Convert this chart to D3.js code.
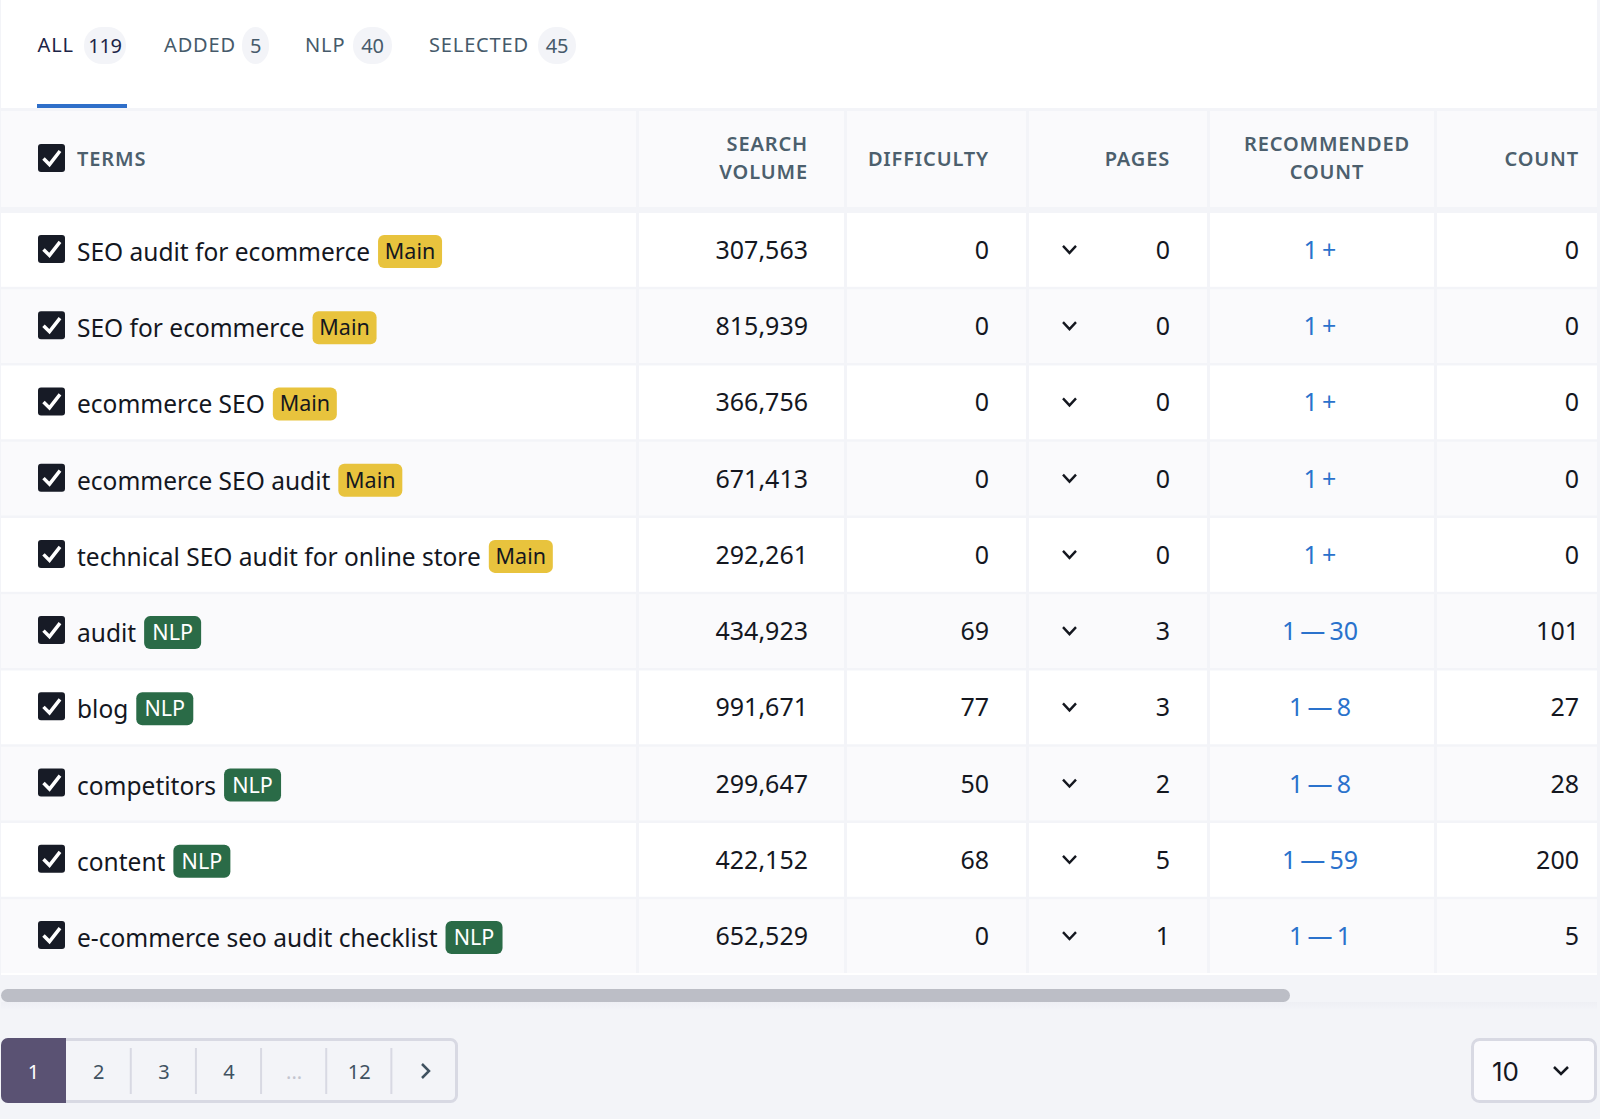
<!DOCTYPE html>
<html>
<head>
<meta charset="utf-8">
<script src="https://cdn.jsdelivr.net/npm/d3@7"></script>
<style>
html, body { margin: 0; padding: 0; background: #f3f4f8; }
svg { display: block; }
text { font-family: "Noto Sans", sans-serif; }
</style>
</head>
<body>
<div id="chart-container"></div>
<script>
const tabNames = ["ALL", "ADDED", "NLP", "SELECTED"];
const tabCounts = ["119", "5", "40", "45"];
const terms = ["SEO audit for ecommerce", "SEO for ecommerce", "ecommerce SEO", "ecommerce SEO audit", "technical SEO audit for online store", "audit", "blog", "competitors", "content", "e-commerce seo audit checklist"];
const tags = ["Main", "Main", "Main", "Main", "Main", "NLP", "NLP", "NLP", "NLP", "NLP"];
const volumes = ["307,563", "815,939", "366,756", "671,413", "292,261", "434,923", "991,671", "299,647", "422,152", "652,529"];
const difficulty = [0, 0, 0, 0, 0, 69, 77, 50, 68, 0];
const pages = [0, 0, 0, 0, 0, 3, 3, 2, 5, 1];
const recommended = ["1\u2009+", "1\u2009+", "1\u2009+", "1\u2009+", "1\u2009+", "1\u2009—\u200930", "1\u2009—\u20098", "1\u2009—\u20098", "1\u2009—\u200959", "1\u2009—\u20091"];
const counts = [0, 0, 0, 0, 0, 101, 27, 28, 200, 5];
const pageLabels = ["1", "2", "3", "4", "...", "12"];

const width = 1600, height = 1119;

var svg = d3.select("#chart-container")
    .append("svg")
    .attr("width", width)
    .attr("height", height);

// Soft shadow under the table panel
var shadow = svg.append("defs").append("linearGradient")
    .attr("id", "panel-shadow")
    .attr("x1", 0).attr("y1", 0).attr("x2", 0).attr("y2", 1);
shadow.append("stop").attr("offset", 0).attr("stop-color", "#eeeff4");
shadow.append("stop").attr("offset", 1).attr("stop-color", "#f3f4f8");
svg.append("rect").attr("x", 1).attr("y", 1002).attr("width", 1596).attr("height", 8).attr("fill", "url(#panel-shadow)");

// Background panels
svg.append("rect").attr("x", 1).attr("y", 0).attr("width", 1596).attr("height", 975).attr("fill", "#ffffff");

// Tabs
var tabX = [37.5, 164, 305, 429];
var tabBadgeX = [84, 242, 353, 538];
var tabBadgeW = [42, 27, 39, 38];
tabNames.forEach(function (name, i) {
    svg.append("text")
        .attr("x", tabX[i]).attr("y", 52)
        .attr("font-size", 20)
        .attr("letter-spacing", 0.85)
        .attr("fill", i == 0 ? "#1c2447" : "#465a6a")
        .text(name);
    svg.append("rect")
        .attr("x", tabBadgeX[i]).attr("y", 27)
        .attr("width", tabBadgeW[i]).attr("height", 37)
        .attr("rx", 18)
        .attr("fill", "#f3f4f8");
    svg.append("text")
        .attr("x", tabBadgeX[i] + tabBadgeW[i] / 2).attr("y", 53)
        .attr("text-anchor", "middle")
        .attr("font-size", 20)
        .attr("letter-spacing", -0.3)
        .attr("fill", i == 0 ? "#1c2447" : "#465a6a")
        .text(tabCounts[i]);
});
svg.append("rect").attr("x", 37).attr("y", 104).attr("width", 90).attr("height", 4).attr("fill", "#2f6fc9");

// Row scale
var y = d3.scaleBand()
    .domain(d3.range(terms.length))
    .range([213, 973])
    .paddingInner(0.032)
    .paddingOuter(0);

// Column layout
var colEdges = [1, 636, 844, 1026, 1207, 1434, 1597];
var colGaps = 3;

// Table grid background (gap color)
svg.append("rect").attr("x", 1).attr("y", 108).attr("width", 1596).attr("height", 865).attr("fill", "#f3f4f8");

function drawRowCells(top, h, fill) {
    for (var c = 0; c < colEdges.length - 1; c++) {
        svg.append("rect")
            .attr("x", colEdges[c] + (c == 0 ? 0 : colGaps))
            .attr("y", top)
            .attr("width", colEdges[c + 1] - colEdges[c] - (c == 0 ? 0 : colGaps))
            .attr("height", h)
            .attr("fill", fill);
    }
}

function drawCheckbox(cy) {
    svg.append("rect")
        .attr("x", 38).attr("y", cy - 14)
        .attr("width", 27).attr("height", 28)
        .attr("rx", 3)
        .attr("fill", "#171b26");
    svg.append("path")
        .attr("d", `M43.5 ${cy + 0.5} L49.5 ${cy + 6.5} L60 ${cy - 7}`)
        .attr("fill", "none")
        .attr("stroke", "#ffffff")
        .attr("stroke-width", 3.5);
}

// Header
drawRowCells(111, 96, "#fafafc");
drawCheckbox(158);

function headerText(x, yPos, label, anchor) {
    svg.append("text")
        .attr("x", x).attr("y", yPos)
        .attr("text-anchor", anchor)
        .attr("font-size", 20)
        .attr("font-weight", 600)
        .attr("letter-spacing", 0.85)
        .attr("fill", "#4c5f6d")
        .text(label);
}
headerText(77, 166, "TERMS", "start");
headerText(808, 151, "SEARCH", "end");
headerText(808, 179, "VOLUME", "end");
headerText(989, 166, "DIFFICULTY", "end");
headerText(1170, 166, "PAGES", "end");
headerText(1327, 151, "RECOMMENDED", "middle");
headerText(1327, 179, "COUNT", "middle");
headerText(1579, 166, "COUNT", "end");

// Body rows
terms.forEach(function (term, i) {
    var top = y(i), h = y.bandwidth(), cy = top + h / 2;
    drawRowCells(top, h, i % 2 == 0 ? "#ffffff" : "#fafafc");
    drawCheckbox(cy - 1);

    var label = svg.append("text")
        .attr("x", 77).attr("y", cy + 11)
        .attr("font-size", 24.5)
        .attr("fill", "#14171f")
        .text(term);
    var labelWidth = label.node().getComputedTextLength();

    var isMain = tags[i] == "Main";
    var tagW = isMain ? 64 : 57;
    svg.append("rect")
        .attr("x", 77 + labelWidth + 8).attr("y", cy - 15)
        .attr("width", tagW).attr("height", 33)
        .attr("rx", 6)
        .attr("fill", isMain ? "#e8c33d" : "#2a6b47");
    svg.append("text")
        .attr("x", 77 + labelWidth + 8 + tagW / 2).attr("y", cy + 9)
        .attr("text-anchor", "middle")
        .attr("font-size", 21.5)
        .attr("fill", isMain ? "#14171f" : "#ffffff")
        .text(tags[i]);

    var rightCols = [[808, volumes[i]], [989, difficulty[i]], [1170, pages[i]], [1579, counts[i]]];
    rightCols.forEach(function (cell) {
        svg.append("text")
            .attr("x", cell[0]).attr("y", cy + 9)
            .attr("text-anchor", "end")
            .attr("font-size", 25)
            .attr("fill", "#14171f")
            .text(cell[1]);
    });

    svg.append("text")
        .attr("x", 1320).attr("y", cy + 9)
        .attr("text-anchor", "middle")
        .attr("font-size", 25)
        .attr("fill", "#2a72cc")
        .text(recommended[i]);

    svg.append("path")
        .attr("d", `M1063 ${cy - 4} L1069.5 ${cy + 3} L1076 ${cy - 4}`)
        .attr("fill", "none")
        .attr("stroke", "#14171f")
        .attr("stroke-width", 2.4);
});

// Scrollbar
svg.append("rect").attr("x", 1).attr("y", 989).attr("width", 1289).attr("height", 13).attr("rx", 6.5).attr("fill", "#bcbec6");

// Pagination
svg.append("rect").attr("x", 2.5).attr("y", 1039.5).attr("width", 454).attr("height", 62).attr("rx", 6)
    .attr("fill", "#f3f4f8").attr("stroke", "#d8d9e3").attr("stroke-width", 3);
svg.append("path")
    .attr("d", "M66 1038 H8 a7 7 0 0 0 -7 7 V1096 a7 7 0 0 0 7 7 H66 Z")
    .attr("fill", "#5a5273");
var pageX = d3.scaleBand().domain(d3.range(7)).range([1, 457]);
pageLabels.forEach(function (p, i) {
    svg.append("text")
        .attr("x", pageX(i) + pageX.bandwidth() / 2).attr("y", 1079)
        .attr("text-anchor", "middle")
        .attr("font-size", 20)
        .attr("fill", i == 0 ? "#ffffff" : (p == "..." ? "#c3c5cf" : "#3f5160"))
        .text(p);
});
d3.range(1, 6).forEach(function (i) {
    svg.append("rect")
        .attr("x", pageX(i + 1) - 1.5).attr("y", 1048).attr("width", 2).attr("height", 46)
        .attr("fill", "#d8d9e3");
});
svg.append("path").attr("d", "M422 1064 L429 1071 L422 1078")
    .attr("fill", "none").attr("stroke", "#3f5160").attr("stroke-width", 2.5);

// Page size select
svg.append("rect").attr("x", 1472.5).attr("y", 1039.5).attr("width", 123).attr("height", 62).attr("rx", 7)
    .attr("fill", "#fafafd").attr("stroke", "#d8d9e3").attr("stroke-width", 3);
svg.append("text").attr("x", 1492).attr("y", 1081)
    .style("font-family", "Inter")
    .attr("font-size", 26).attr("fill", "#14171f").text("10");
svg.append("path").attr("d", "M1554 1067 L1561 1074 L1568 1067")
    .attr("fill", "none").attr("stroke", "#14171f").attr("stroke-width", 2.5);
</script>
</body>
</html>
